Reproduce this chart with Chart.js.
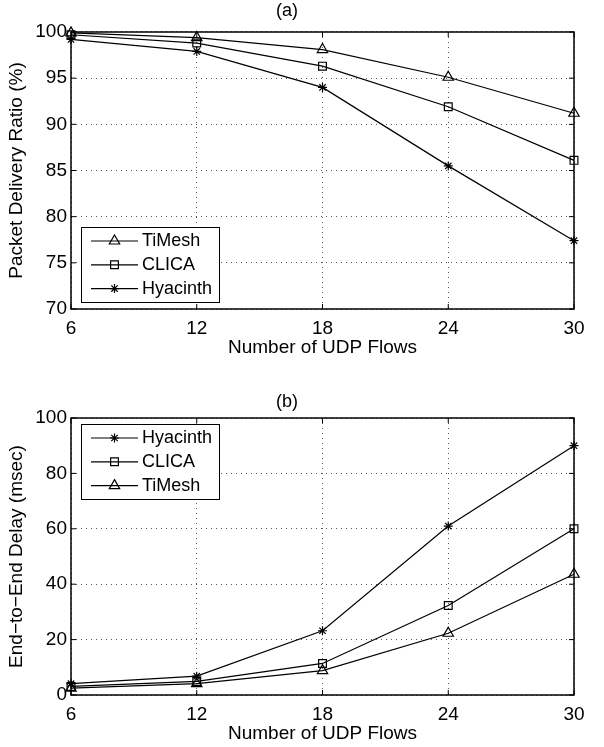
<!DOCTYPE html>
<html>
<head>
<meta charset="utf-8">
<title>UDP flows</title>
<script src="https://cdn.jsdelivr.net/npm/chart.js@4.4.1/dist/chart.umd.min.js"></script>
<style>
	body { margin: 0; background: #fff; }
	#wrapper { position: relative; width: 604px; height: 747px; }
	#wrapper canvas { position: absolute; left: 0; }
</style>
</head>
<body>
<div id="wrapper">
	<canvas id="pdrChart" width="604" height="372" style="top:0"></canvas>
	<canvas id="delayChart" width="604" height="375" style="top:372px"></canvas>
</div>
<script>
// values
var flows = [6, 12, 18, 24, 30];
var pdrTiMesh = [99.9, 99.4, 98.1, 95.1, 91.2];
var pdrClica = [99.7, 98.8, 96.3, 91.9, 86.1];
var pdrHyacinth = [99.2, 97.9, 94.0, 85.5, 77.4];
var delayHyacinth = [4.1, 6.8, 23.2, 61.0, 90.0];
var delayClica = [3.1, 4.9, 11.4, 32.3, 60.0];
var delayTiMesh = [2.5, 4.1, 8.8, 22.3, 43.6];

var FONT = '"Liberation Sans", Arial, Helvetica, sans-serif';

function series(label, values, style, radius) {
	return {
		label: label,
		data: flows.map(function (f, i) { return { x: f, y: values[i] }; }),
		borderColor: '#000',
		borderWidth: 1.2,
		pointStyle: style,
		pointRadius: radius,
		pointHoverRadius: radius,
		pointBorderColor: '#000',
		pointBackgroundColor: 'rgba(0,0,0,0)',
		pointBorderWidth: 1.2,
		tension: 0,
		clip: false
	};
}

// axes box with inward ticks, like matlab
var frame = {
	id: 'frame',
	afterDatasetsDraw: function (chart) {
		var ctx = chart.ctx, a = chart.chartArea, sx = chart.scales.x, sy = chart.scales.y;
		ctx.save();
		ctx.strokeStyle = '#000';
		ctx.lineWidth = 1;
		ctx.beginPath();
		sx.ticks.forEach(function (t) {
			var p = sx.getPixelForValue(t.value);
			ctx.moveTo(p, a.bottom); ctx.lineTo(p, a.bottom - 5);
			ctx.moveTo(p, a.top); ctx.lineTo(p, a.top + 5);
		});
		sy.ticks.forEach(function (t) {
			var p = sy.getPixelForValue(t.value);
			ctx.moveTo(a.left, p); ctx.lineTo(a.left + 5, p);
			ctx.moveTo(a.right, p); ctx.lineTo(a.right - 5, p);
		});
		ctx.stroke();
		ctx.lineWidth = 1.5;
		ctx.strokeRect(a.left, a.top, a.right - a.left, a.bottom - a.top);
		ctx.restore();
	}
};

// boxed legend with line + marker samples
var boxLegend = {
	id: 'boxLegend',
	afterDraw: function (chart, args, opts) {
		var ctx = chart.ctx, a = chart.chartArea;
		var w = 138, h = 75, left = a.left + 10;
		var top = opts.at === 'top' ? a.top + 6 : a.bottom - 7 - h;
		ctx.save();
		ctx.fillStyle = '#fff';
		ctx.fillRect(left, top, w, h);
		ctx.strokeStyle = '#000';
		ctx.lineWidth = 1;
		ctx.strokeRect(left + 0.5, top + 0.5, w, h);
		chart.data.datasets.forEach(function (ds, i) {
			var y = top + 14 + i * 23.8;
			ctx.lineWidth = 1.2;
			ctx.beginPath();
			ctx.moveTo(left + 10, y);
			ctx.lineTo(left + 57, y);
			ctx.stroke();
			ctx.fillStyle = 'rgba(0,0,0,0)';
			Chart.helpers.drawPoint(ctx, { pointStyle: ds.pointStyle, radius: ds.pointRadius, rotation: 0, borderWidth: 1.2 }, left + 33.5, y);
			ctx.fillStyle = '#000';
			ctx.font = '18px ' + FONT;
			ctx.textBaseline = 'middle';
			ctx.textAlign = 'left';
			ctx.fillText(ds.label, left + 61, y);
		});
		ctx.restore();
	}
};

function options(title, titlePad, yTitle, yMin, yMax, yStep, xHeight, xTitlePad, legendAt) {
	return {
		responsive: false,
		animation: false,
		layout: { padding: { left: 0, right: 30, top: 0, bottom: 0 } },
		plugins: {
			legend: { display: false },
			tooltip: { enabled: false },
			title: { display: true, text: title, color: '#000', font: { family: FONT, size: 18, weight: 'normal' }, padding: titlePad },
			boxLegend: { at: legendAt }
		},
		scales: {
			x: {
				type: 'linear', min: 6, max: 30,
				afterFit: function (s) { s.height = xHeight; },
				ticks: { stepSize: 6, color: '#000', padding: 8, font: { family: FONT, size: 19 } },
				grid: { color: '#555', lineWidth: 1, drawTicks: false },
				border: { display: false, dash: [1, 4] },
				title: { display: true, text: 'Number of UDP Flows', color: '#000', font: { family: FONT, size: 19 }, padding: { top: 0, bottom: xTitlePad } }
			},
			y: {
				min: yMin, max: yMax,
				afterFit: function (s) { s.width = 71; },
				ticks: { stepSize: yStep, color: '#000', padding: 4, font: { family: FONT, size: 19 } },
				grid: { color: '#555', lineWidth: 1, drawTicks: false },
				border: { display: false, dash: [1, 4] },
				title: { display: true, text: yTitle, color: '#000', font: { family: FONT, size: 19 }, padding: { top: 5.6, bottom: 0 } }
			}
		}
	};
}

new Chart(document.getElementById('pdrChart'), {
	type: 'line',
	data: {
		datasets: [
			series('TiMesh', pdrTiMesh, 'triangle', 6),
			series('CLICA', pdrClica, 'rect', 5.5),
			series('Hyacinth', pdrHyacinth, 'star', 4.5)
		]
	},
	options: options('(a)', { top: 0.7, bottom: 9.7 }, 'Packet Delivery Ratio (%)', 70, 100, 5, 63, 12.6, 'bottom'),
	plugins: [frame, boxLegend]
});

new Chart(document.getElementById('delayChart'), {
	type: 'line',
	data: {
		datasets: [
			series('Hyacinth', delayHyacinth, 'star', 4.5),
			series('CLICA', delayClica, 'rect', 5.5),
			series('TiMesh', delayTiMesh, 'triangle', 6)
		]
	},
	options: options('(b)', { top: 19.7, bottom: 4.7 }, 'End\u2212to\u2212End Delay (msec)', 0, 100, 20, 52, 1.6, 'top'),
	plugins: [frame, boxLegend]
});
</script>
</body>
</html>
